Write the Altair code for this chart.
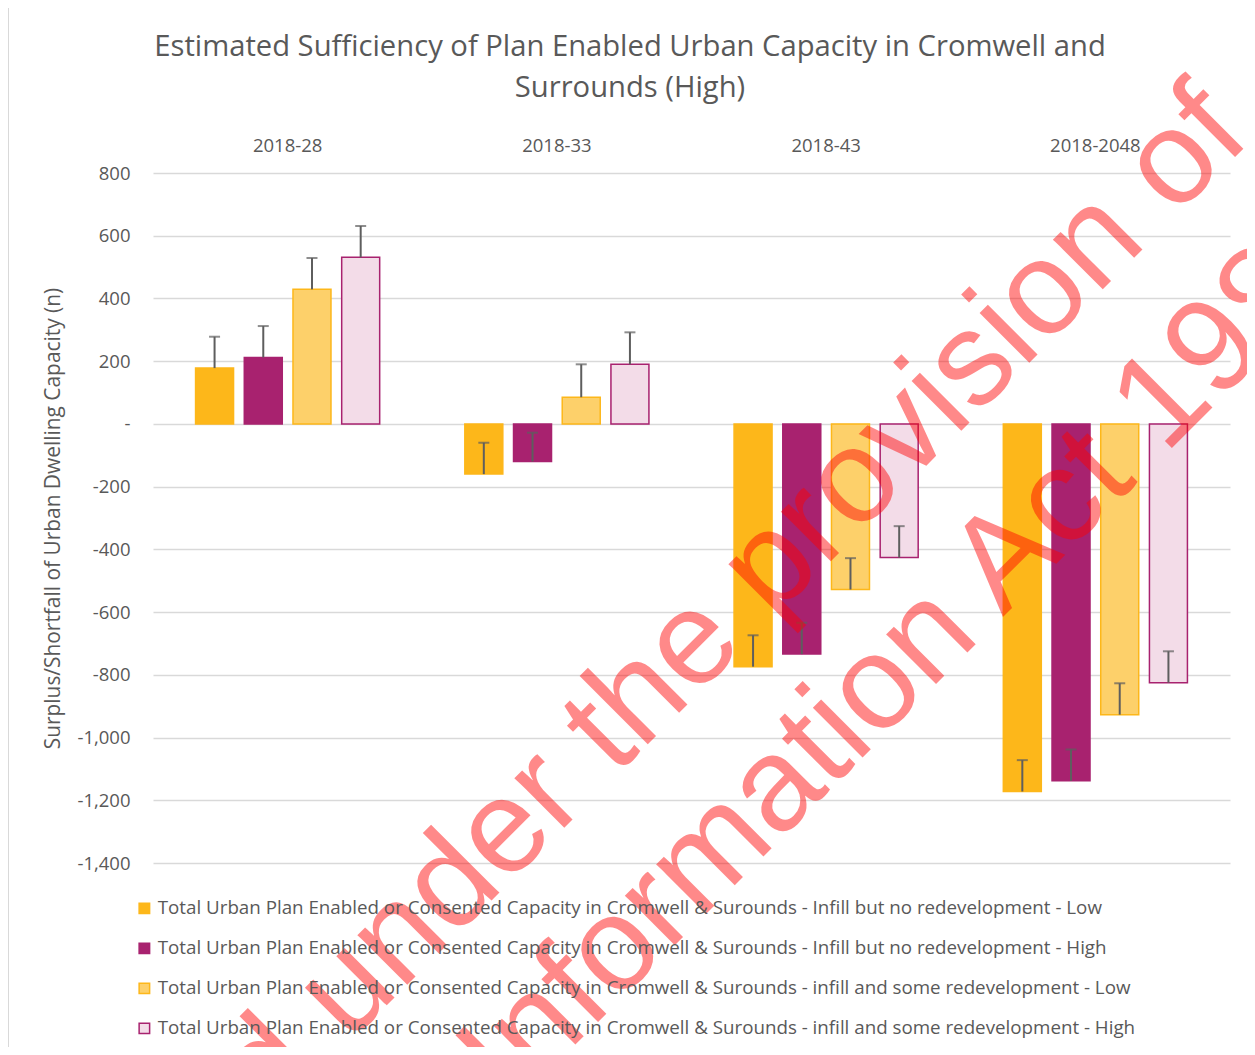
import altair as alt
import pandas as pd

groups = ["2018-28", "2018-33", "2018-43", "2018-2048"]

series = [
    "Total Urban Plan Enabled or Consented Capacity in Cromwell & Surounds - Infill but no redevelopment - Low",
    "Total Urban Plan Enabled or Consented Capacity in Cromwell & Surounds - Infill but no redevelopment - High",
    "Total Urban Plan Enabled or Consented Capacity in Cromwell & Surounds - infill and some redevelopment - Low",
    "Total Urban Plan Enabled or Consented Capacity in Cromwell & Surounds - infill and some redevelopment - High",
]

infill_low = [178, -160, -774, -1172]
infill_high = [212, -120, -734, -1138]
redev_low = [429, 85, -528, -927]
redev_high = [531, 190, -426, -825]

err_infill_low = [100, 100, 100, 100]
err_infill_high = [100, 92, 100, 100]
err_redev_low = [100, 105, 100, 100]
err_redev_high = [100, 102, 100, 100]

fills = ["#FDB71A", "#A8226F", "#FDD06A", "#F3DCE8"]
strokes = ["#FDB71A", "#A8226F", "#FDB71A", "#A8226F"]

y_ticks = [-1400, -1200, -1000, -800, -600, -400, -200, 0, 200, 400, 600, 800]

title_line_1 = "Estimated Sufficiency of Plan Enabled Urban Capacity in Cromwell and"
title_line_2 = "Surrounds (High)"
y_title = "Surplus/Shortfall of Urban Dwelling Capacity (n)"
watermark_1 = "Released under the provision of"
watermark_2 = "the Official Information Act 1982"

rows = []
for s, vals, errs in zip(
    series,
    [infill_low, infill_high, redev_low, redev_high],
    [err_infill_low, err_infill_high, err_redev_low, err_redev_high],
):
    for g, v, e in zip(groups, vals, errs):
        rows.append({"group": g, "series": s, "value": v, "err_top": v + e})
df = pd.DataFrame(rows)

FONT = "Open Sans"
GREY = "#595959"

legend = alt.Legend(
    orient="none",
    legendX=-18,
    legendY=726,
    direction="vertical",
    title=None,
    labelFont=FONT,
    labelFontSize=18.75,
    labelColor=GREY,
    labelLimit=1200,
    symbolType="square",
    symbolSize=110,
    symbolStrokeWidth=1.5,
    labelOffset=4,
    rowPadding=20,
    padding=0,
)

x_enc = alt.X(
    "group:N",
    sort=groups,
    scale=alt.Scale(paddingInner=0, paddingOuter=0),
    axis=alt.Axis(
        orient="top",
        title=None,
        labelAngle=0,
        domain=False,
        ticks=False,
        grid=False,
        labelPadding=18,
        labelFont=FONT,
        labelFontSize=18.5,
        labelColor=GREY,
    ),
)
xoff_enc = alt.XOffset(
    "series:N", sort=series, scale=alt.Scale(paddingInner=0.22, paddingOuter=0.874)
)
y_scale = alt.Scale(domain=[-1400, 800], nice=False)

base = alt.Chart(df)

bars = base.mark_bar(strokeWidth=1.5).encode(
    x=x_enc,
    xOffset=xoff_enc,
    y=alt.Y(
        "value:Q",
        scale=y_scale,
        axis=alt.Axis(
            values=y_ticks,
            labelExpr="datum.value == 0 ? '-' : replace(format(datum.value, ','), '\u2212', '-')",
            domain=False,
            ticks=False,
            grid=True,
            gridColor="#D9D9D9",
            gridWidth=1.5,
            labelPadding=23,
            labelFont=FONT,
            labelFontSize=18.5,
            labelColor=GREY,
            title=y_title,
            titleFont=FONT,
            titleFontSize=20.9,
            titleFontWeight="normal",
            titleColor=GREY,
            titlePadding=13,
        ),
    ),
    fill=alt.Fill("series:N", sort=series, scale=alt.Scale(domain=series, range=fills), legend=legend),
    stroke=alt.Stroke("series:N", sort=series, scale=alt.Scale(domain=series, range=strokes), legend=legend),
)

rules = base.mark_rule(color="#5E5E5E", strokeWidth=2).encode(
    x=alt.X("group:N", sort=groups),
    xOffset=alt.XOffset("series:N", sort=series),
    y=alt.Y("value:Q"),
    y2="err_top:Q",
)

caps = base.mark_tick(color="#5E5E5E", thickness=2, size=11).encode(
    x=alt.X("group:N", sort=groups),
    xOffset=alt.XOffset("series:N", sort=series),
    y=alt.Y("err_top:Q"),
)

one = alt.Data(values=[{"k": 1}])

border = alt.Chart(one).mark_rule(color="#D9D9D9", strokeWidth=1).encode(
    x=alt.value(-144.5), y=alt.value(-170), y2=alt.value(900)
)

title_1 = alt.Chart(one).mark_text(
    text=title_line_1, font=FONT, fontSize=29.2, color=GREY, align="center", baseline="middle"
).encode(x=alt.value(630 - 153), y=alt.value(47 - 173))

title_2 = alt.Chart(one).mark_text(
    text=title_line_2, font=FONT, fontSize=29.2, color=GREY, align="center", baseline="middle"
).encode(x=alt.value(630 - 153), y=alt.value(88 - 173))

wm1 = alt.Chart(one).mark_text(
    text=watermark_1,
    font="Liberation Sans",
    fontSize=133,
    angle=315,
    align="right",
    baseline="alphabetic",
    color="#FF0000",
    opacity=0.46,
).encode(x=alt.value(1253 - 153), y=alt.value(139 - 173))

wm2 = alt.Chart(one).mark_text(
    text=watermark_2,
    font="Liberation Sans",
    fontSize=133,
    angle=315,
    align="right",
    baseline="alphabetic",
    color="#FF0000",
    opacity=0.46,
).encode(x=alt.value(1374 - 153), y=alt.value(246 - 173))

chart = alt.layer(border, title_1, title_2, bars, rules, caps, wm1, wm2).properties(
    width=1077,
    height=690,
    padding={"left": 145, "top": 165, "right": 17, "bottom": 184},
    autosize=alt.AutoSizeParams(type="none"),
    background="white",
).configure_view(stroke="transparent", strokeWidth=0)

chart.save("out.html", embed_options={"renderer": "svg", "actions": False})
